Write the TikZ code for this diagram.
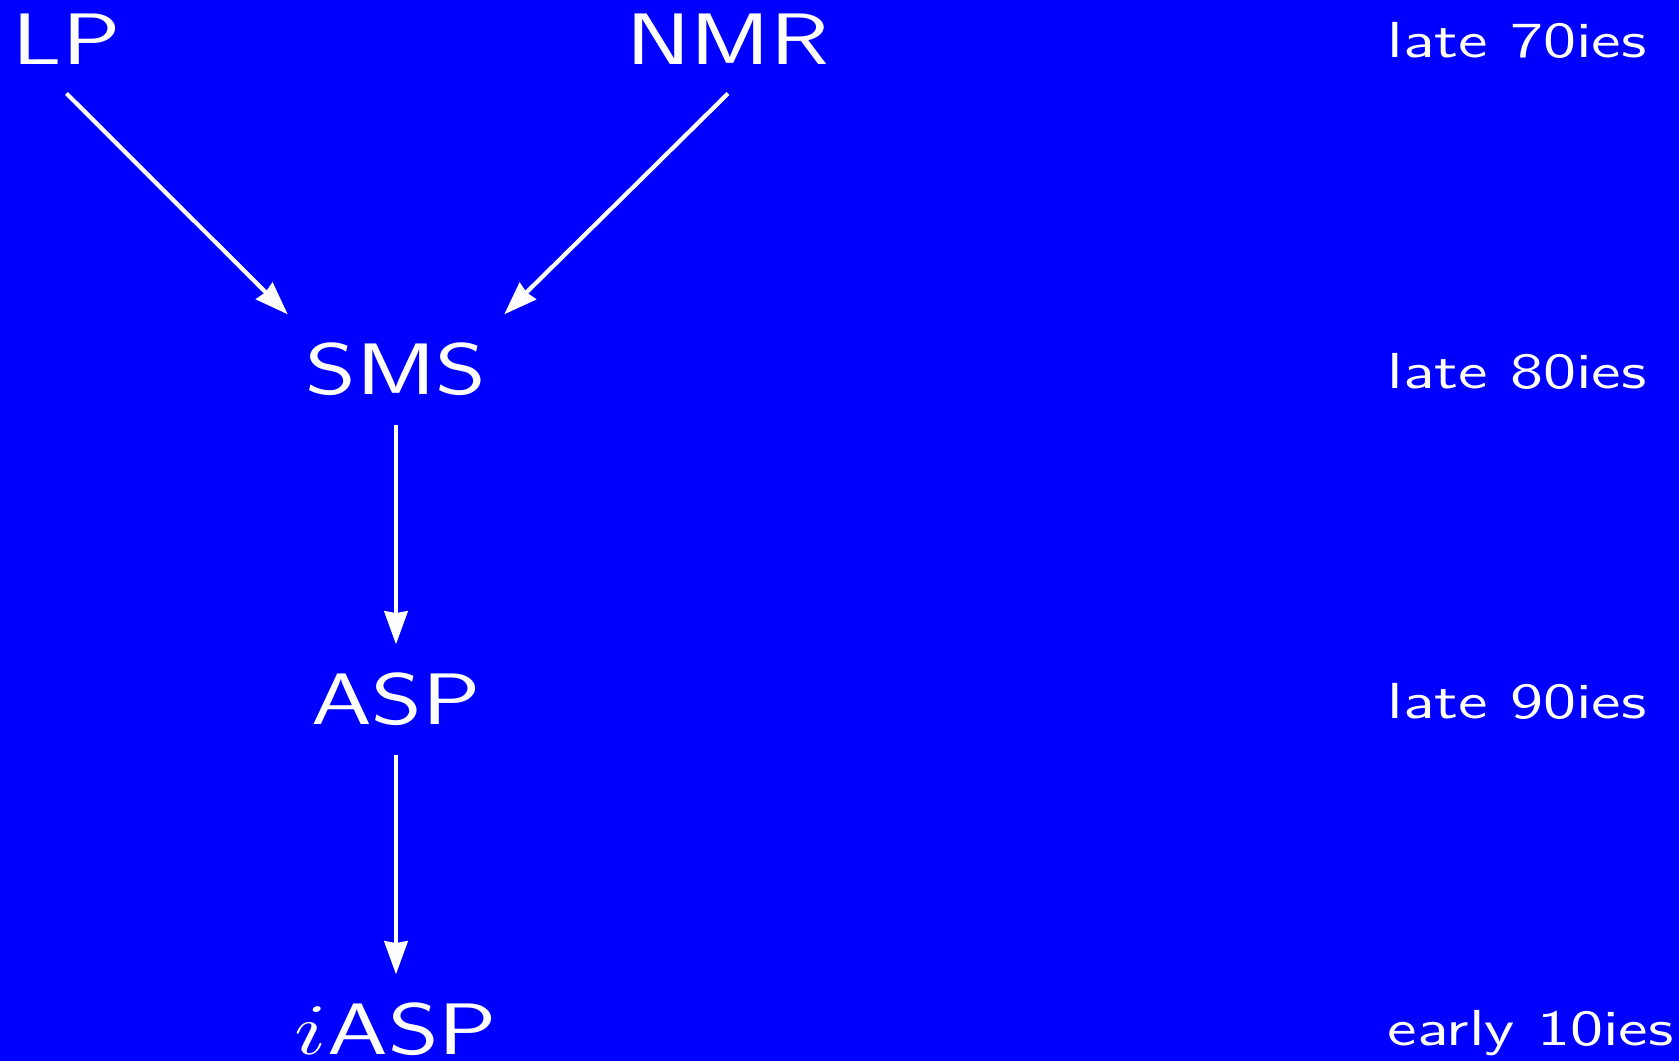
\documentclass[tikz,border=0pt]{standalone}
\usepackage{graphicx}
\usepackage{tikz}
\usetikzlibrary{arrows.meta}
\newcommand{\wide}[1]{\scalebox{1.333}[1]{#1}}

\begin{document}
\begin{tikzpicture}[term/.style={text=white, font=\sffamily\huge, inner xsep=0.17cm, inner ysep=0.28cm},
	era/.style={text=white, font=\sffamily\Large, anchor=base west, inner sep=0pt},
	flow/.style={draw=white, very thick, -{Stealth[length=9.4pt,width=6.6pt,inset=0.5pt]}}]
	\fill[blue] (0,0) rectangle (16.79,10.61);
	\useasboundingbox (0,0) rectangle (16.79,10.61);
	\node[term] (lp) at (0.665,10.215) {\wide{LP}};
	\node[term] (nmr) at (7.28,10.215) {\wide{NMR}};
	\node[term] (sms) at (3.96,6.915) {\wide{SMS}};
	\node[term] (asp) at (3.96,3.615) {\wide{ASP}};
	\node[term] (iasp) at (3.96,0.315) {\wide{$i$ASP}};
	\node[era] (t70) at (13.87,10.04) {\wide{late 70ies}};
	\node[era] (t80) at (13.87,6.73) {\wide{late 80ies}};
	\node[era] (t90) at (13.87,3.43) {\wide{late 90ies}};
	\node[era] (t10) at (13.87,0.16) {\wide{early 10ies}};
	\draw[flow] (lp.south) -- (sms.north west);
	\draw[flow] (nmr.south) -- (sms.north east);
	\draw[flow] (sms) -- (asp);
	\draw[flow] (asp) -- (iasp);
\end{tikzpicture}
\end{document}
